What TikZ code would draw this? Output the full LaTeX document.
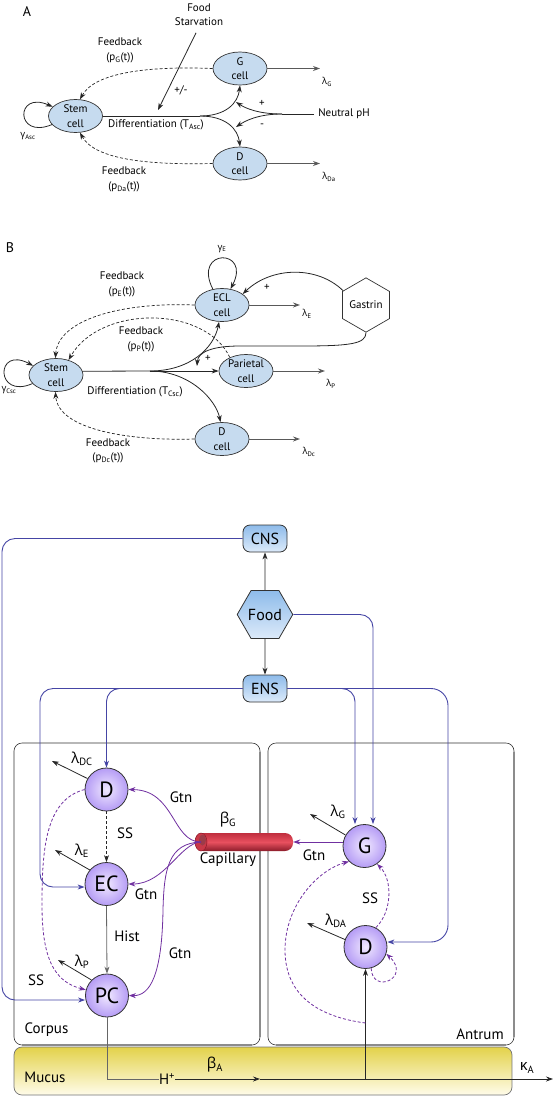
\documentclass[tikz,border=0pt]{standalone}
\usepackage{fontspec}
\setmainfont{PT Sans}
\newfontfamily\grkfont{Open Sans}
\usetikzlibrary{arrows.meta,shapes.geometric,calc}
\definecolor{cellfill}{HTML}{C6DBEF}
\definecolor{linec}{HTML}{333333}
\definecolor{blueL}{HTML}{4545A5}
\definecolor{purp}{HTML}{7030A0}
\definecolor{circin}{HTML}{F0E8FF}
\definecolor{circout}{HTML}{B59CF5}
\definecolor{nodetop}{HTML}{8EBBEA}
\definecolor{nodebot}{HTML}{DDEBFA}
\definecolor{capTop}{HTML}{C02E3E}
\definecolor{capMid}{HTML}{E8505F}
\definecolor{capBot}{HTML}{8C1C2A}
\definecolor{capFace}{HTML}{C93848}
\definecolor{capRim}{HTML}{8A1A28}
\definecolor{mucTop}{HTML}{E3D24A}
\definecolor{mucBot}{HTML}{FFFCEA}
\newcommand\gk[1]{{\grkfont #1}}
\newcommand\sbs[1]{\textsubscript{#1}}
\tikzset{
 fA/.style={font=\fontsize{11}{14.5}\selectfont},
 fS/.style={font=\fontsize{9.5}{11}\selectfont},
 fC/.style={font=\fontsize{15}{15}\selectfont},
 lbl/.style={fA, align=center, inner sep=0pt},
 lblS/.style={fS, inner sep=0pt},
 lblC/.style={fC, inner sep=0pt},
 cellAB/.style={ellipse, draw=linec, fill=cellfill, line width=0.7pt, minimum width=54pt, minimum height=33pt, inner sep=-2pt, align=center, fA},
 ln/.style={line width=0.8pt, draw=black!85},
 arr/.style={ln, -{Stealth[length=7pt,width=5pt]}},
 fb/.style={arr, line width=0.7pt, dash pattern=on 3pt off 2pt},
 lam/.style={arr, draw=black!65, line width=0.9pt},
 cc/.style={circle, draw=black!80, line width=0.8pt, minimum size=43pt, inner sep=0pt, inner color=circin, outer color=circout, font=\fontsize{22}{22}\selectfont},
 bx/.style={rectangle, rounded corners=7pt, draw=black!80, line width=0.8pt, top color=nodetop, bottom color=nodebot, minimum width=44pt, minimum height=27pt, inner sep=0pt, font=\fontsize{16}{16}\selectfont},
 bl/.style={draw=blueL, line width=0.9pt, rounded corners=13pt, -{Stealth[length=7pt,width=5pt]}},
 pp/.style={draw=purp, line width=0.8pt, -{Stealth[length=7pt,width=5pt]}},
 ppd/.style={pp, dash pattern=on 3pt off 2pt},
 boxst/.style={draw=black!80, line width=0.6pt, rounded corners=8pt},
 boxsh/.style={draw=black!45, line width=1.4pt},
}
\begin{document}
\begin{tikzpicture}[x=1pt,y=-1pt]
\useasboundingbox (0,0) rectangle (554,1096);
% ================= Panel A =================
\node[font=\fontsize{14}{14}\selectfont, inner sep=0pt] (labA) at (27,12) {A};
\node[cellAB] (stemA) at (75.5,116) {Stem\\cell};
\node[cellAB] (gA) at (240,68.5) {G\\cell};
\node[cellAB] (dA) at (240,163.5) {D\\cell};
\node[lbl] (fsA) at (199,14.5) {Food\\Starvation};
\node[lbl] (npA) at (344,114) {Neutral pH};
\node[lbl] (fbgA) at (120,50.5) {Feedback\\(p\sbs{G}(t))};
\node[lbl] (fbdA) at (124,179.5) {Feedback\\(p\sbs{Da}(t))};
\node[lbl] (difA) at (156,125) {Differentiation (T\sbs{Asc})};
\node[lbl] (pmA) at (181,90) {+/-};
\node[lbl] (plA) at (262,103) {+};
\node[lbl] (miA) at (262,126) {-};
\node[lblS] (gamA) at (28,136) {\gk{γ}\sbs{Asc}};
\node[lblS] (lgA) at (327,82) {\gk{λ}\sbs{G}};
\node[lblS] (ldA) at (329,177) {\gk{λ}\sbs{Da}};
\coordinate (divA) at (200,116);
\draw[ln] (stemA.east) -- (divA);
\draw[arr] (divA) .. controls (226,116) and (238,103) .. (gA.south);
\draw[arr] (divA) .. controls (226,116) and (238,129) .. (dA.north);
\draw[arr] (stemA.200) .. controls (15,140) and (15,90) .. (stemA.158);
\draw[fb] (gA.west) .. controls (150,66) and (95,72) .. (stemA.75);
\draw[fb] (dA.west) .. controls (150,165) and (95,160) .. (stemA.-75);
\coordinate (fsEnd) at (158,110);
\draw[arr] ($(fsA.south)+(-3,7)$) -- (fsEnd);
\coordinate (npSplit) at (282,114);
\coordinate (npUp) at (236,102);
\coordinate (npDn) at (236,127);
\draw[ln] ([xshift=-4pt]npA.west) -- (npSplit);
\draw[arr] (npSplit) .. controls (258,114) and (245,108) .. (npUp);
\draw[arr] (npSplit) .. controls (258,114) and (245,121) .. (npDn);
\coordinate (lgAe) at (320,68.5);
\coordinate (ldAe) at (320,163.5);
\draw[lam] (gA.east) -- (lgAe);
\draw[lam] (dA.east) -- (ldAe);
% ================= Panel B =================
\node[font=\fontsize{14}{14}\selectfont, inner sep=0pt] (labB) at (10,248) {B};
\node[cellAB] (stemB) at (56,375) {Stem\\cell};
\node[cellAB] (ecl) at (222,305) {ECL\\cell};
\node[cellAB] (par) at (246,371) {Parietal\\cell};
\node[cellAB] (dB) at (222,439) {D\\cell};
\node[regular polygon, regular polygon sides=6, shape border rotate=30, minimum size=45pt, inner sep=0pt, draw=linec, fill=white, line width=0.7pt, fA] (gas) at (366,305) {Gastrin};
\node[lbl] (fbeB) at (122,284.5) {Feedback\\(p\sbs{E}(t))};
\node[lbl] (fbpB) at (141,339.5) {Feedback\\(p\sbs{P}(t))};
\node[lbl] (fbdB) at (108,451) {Feedback\\(p\sbs{Dc}(t))};
\node[lbl] (difB) at (135,392) {Differentiation (T\sbs{Csc})};
\node[lbl] (plB1) at (267,287) {+};
\node[lbl] (plB2) at (208,358) {+};
\node[lblS] (gamB) at (9,390) {\gk{γ}\sbs{Csc}};
\node[lblS] (gamE) at (222,249) {\gk{γ}\sbs{E}};
\node[lblS] (lEB) at (307,314) {\gk{λ}\sbs{E}};
\node[lblS] (lPB) at (331,384) {\gk{λ}\sbs{P}};
\node[lblS] (lDB) at (309,452) {\gk{λ}\sbs{Dc}};
\coordinate (divB) at (150,371);
\draw[ln] (stemB.8) -- (divB);
\draw[arr] (divB) -- (par.west);
\draw[arr] (divB) .. controls (190,371) and (214,348) .. (ecl.-100);
\draw[arr] (divB) .. controls (190,371) and (216,400) .. (dB.95);
\draw[arr] (stemB.200) .. controls (-5,400) and (-5,345) .. (stemB.158);
\draw[arr] (ecl.120) .. controls (192,248) and (252,248) .. (ecl.62);
\draw[arr] (gas.148) .. controls (318,266) and (272,266) .. (ecl.28);
\coordinate (gEnd) at (197,366);
\draw[arr] (gas.south) .. controls (366,344) and (350,346) .. (300,346) -- (240,346) .. controls (212,346) and (198,352) .. (gEnd);
\draw[fb] (ecl.west) .. controls (120,302) and (58,320) .. (stemB.92);
\draw[fb] (par.140) .. controls (205,305) and (100,305) .. (stemB.50);
\draw[fb] (dB.west) .. controls (130,441) and (58,430) .. (stemB.-92);
\coordinate (lEe) at (300,305);
\coordinate (lPe) at (325,371);
\coordinate (lDe) at (300,439);
\draw[lam] (ecl.east) -- (lEe);
\draw[lam] (par.east) -- (lPe);
\draw[lam] (dB.east) -- (lDe);
% ================= Panel C =================
\draw[boxst] (14,743) rectangle (260,1045);
\draw[boxst] (268,743) rectangle (514,1045);
\draw[boxsh] (260,752) -- (260,1037);
\draw[boxsh] (514,752) -- (514,1037);
\draw[boxsh] (22,1045) -- (252,1045);
\draw[boxsh] (276,1045) -- (506,1045);
\shadedraw[top color=mucTop, bottom color=mucBot, draw=black!55, line width=0.7pt, rounded corners=8pt] (14,1047) rectangle (512,1095);
% capillary
\node[minimum width=98pt, minimum height=18pt, inner sep=0pt] (cap) at (244,842) {};
\shade[top color=capTop, bottom color=capBot, middle color=capMid, rounded corners=8pt] (195,833) rectangle (293,851);
\filldraw[fill=capFace, draw=capRim, line width=0.5pt] (201,842) circle [x radius=6pt, y radius=9pt];
\fill[capRim!85] (202.5,840) circle [x radius=3.5pt, y radius=5.5pt];
\coordinate (capL) at (201,842);
% nodes
\node[bx] (cns) at (265,538.5) {CNS};
\node[regular polygon, regular polygon sides=6, minimum size=54pt, inner sep=0pt, draw=black!80, line width=0.8pt, top color=nodetop, bottom color=nodebot, font=\fontsize{16}{16}\selectfont] (food) at (265,614.5) {Food};
\node[bx] (ens) at (265,688.5) {ENS};
\node[cc] (dC) at (106.5,789.5) {D};
\node[cc] (ec) at (106.5,884) {EC};
\node[cc] (pc) at (107,995.5) {PC};
\node[cc] (g) at (364.5,846) {G};
\node[cc] (dAn) at (365.5,947) {D};
% labels
\node[lblC] (gtn1) at (181,797) {Gtn};
\node[lblC] (gtn2) at (146,894) {Gtn};
\node[lblC] (gtn3) at (180,953) {Gtn};
\node[lblC] (gtn4) at (314,855) {Gtn};
\node[lblC] (ss1) at (125,833) {SS};
\node[lblC] (ss2) at (36,980) {SS};
\node[lblC] (ss3) at (370,898) {SS};
\node[lblC] (hist) at (127,936) {Hist};
\node[lblC] (betaG) at (228,820) {\gk{β}\sbs{G}};
\node[lblC] (capl) at (228,860) {Capillary};
\node[lblC] (corp) at (46.5,1030) {Corpus};
\node[lblC] (antr) at (480,1034) {Antrum};
\node[lblC] (muc) at (45,1077) {Mucus};
\node[lblC] (hplus) at (167,1079) {H\textsuperscript{+}};
\node[lblC] (betaA) at (215,1065) {\gk{β}\sbs{A}};
\node[lblC] (kapA) at (527,1068) {\gk{κ}\sbs{A}};
\node[lblC] (lDC) at (82,759) {\gk{λ}\sbs{DC}};
\node[lblC] (lEC) at (82,851) {\gk{λ}\sbs{E}};
\node[lblC] (lPC) at (82,962) {\gk{λ}\sbs{P}};
\node[lblC] (lG) at (338,812) {\gk{λ}\sbs{G}};
\node[lblC] (lDA) at (336,921) {\gk{λ}\sbs{DA}};
% black connectors
\draw[arr] (food.north) -- (cns.south);
\draw[arr] (food.south) -- (ens.north);
\draw[arr, dash pattern=on 3pt off 2pt] (dC.south) -- (ec.north);
\draw[arr, draw=black!60] (ec.south) -- (pc.north);
\draw[ln, draw=black!60] (pc.south) |- (hplus.west);
\coordinate (hMid) at (260,1079);
\coordinate (kEnd) at (553,1079);
\draw[arr] (hplus.east) -- (hMid);
\draw[arr] (hMid) -- (kEnd);
\coordinate (jn) at (dAn.south |- hMid);
\draw[arr] (jn) -- (dAn.south);
\coordinate (lDCe) at (52,761);
\coordinate (lECe) at (55,850);
\coordinate (lPCe) at (58,960);
\coordinate (lGe) at (310,814);
\coordinate (lDAe) at (307,923);
\draw[arr] (dC.150) -- (lDCe);
\draw[arr] (ec.140) -- (lECe);
\draw[arr] (pc.135) -- (lPCe);
\draw[arr] (g.150) -- (lGe);
\draw[arr] (dAn.160) -- (lDAe);
% blue connectors
\coordinate (cnsL) at (2,1000);
\draw[bl] (cns.west) -| (cnsL) -- (cnsL -| pc.west);
\draw[bl] (food.east) -| ([xshift=8.5pt]g.north);
\draw[bl] (ens.east) -| ([xshift=-9.5pt]g.north);
\coordinate (ensR) at (448,942);
\draw[bl, rounded corners=17pt] (ens.east) -| (ensR) -- (ensR -| dAn.east);
\draw[bl] (ens.west) -| (dC.north);
\coordinate (ensL) at (40,887);
\draw[bl] (ens.west) -| (ensL) -- (ensL -| ec.west);
% purple connectors
\draw[pp] (capL) .. controls (172,842) and (175,790) .. (dC.east);
\draw[pp] (capL) .. controls (180,843) and (165,884) .. (ec.east);
\draw[pp] (capL) .. controls (168,843) and (164,870) .. (163,910) .. controls (162,975) and (150,996) .. (pc.east);
\draw[pp] (g.west |- cap.east) -- (cap.east);
\draw[ppd] (dC.west) .. controls (45,800) and (42,850) .. (42,905) .. controls (42,960) and (55,982) .. (pc.165);
\draw[ppd] (dAn.62) .. controls (392,912) and (393,880) .. (g.-55);
\coordinate (ssS) at (365.5,1023);
\draw[ppd] (ssS) .. controls (305,1015) and (285,985) .. (285,950) .. controls (285,905) and (318,870) .. (g.225);
\draw[ppd] (dAn.-75) .. controls (372,995) and (412,978) .. (dAn.-18);
\end{tikzpicture}
\end{document}
